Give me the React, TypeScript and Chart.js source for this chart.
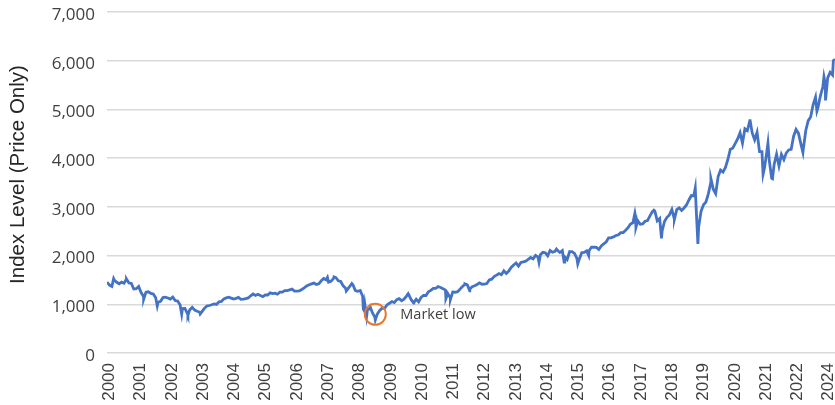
import React, { useEffect, useRef } from 'react';
import { Chart, registerables } from 'chart.js';

Chart.register(...registerables);

// Tick labels shown under the x axis (as printed in the reference)
const xTickLabels = [
  '2000', '2001', '2002', '2003', '2004', '2005', '2006', '2007', '2008', '2009', '2010', '2011',
  '2012', '2013', '2014', '2015', '2016', '2017', '2018', '2019', '2020', '2021', '2022', '2024',
];

const firstYear = 2000;
const startValue = 1455; // 3 Jan 2000

// Month-end index levels, Jan 2000 .. Nov 2024
const monthEndCloses = [
  1394, 1366, 1499, 1452, 1421, 1455, 1431, 1518, 1437, 1429, 1315, 1320, // 2000
  1366, 1240, 1160, 1249, 1256, 1224, 1211, 1134, 1041, 1060, 1139, 1148, // 2001
  1130, 1107, 1147, 1077, 1067, 990, 912, 916, 815, 886, 936, 880, // 2002
  856, 841, 848, 917, 964, 975, 990, 1008, 996, 1051, 1058, 1112, // 2003
  1131, 1145, 1126, 1107, 1121, 1141, 1102, 1104, 1115, 1130, 1174, 1212, // 2004
  1181, 1204, 1181, 1157, 1192, 1191, 1234, 1220, 1229, 1207, 1249, 1248, // 2005
  1280, 1281, 1295, 1311, 1270, 1270, 1277, 1304, 1336, 1378, 1401, 1418, // 2006
  1438, 1407, 1421, 1482, 1531, 1503, 1455, 1474, 1527, 1549, 1481, 1468, // 2007
  1379, 1331, 1323, 1386, 1400, 1280, 1267, 1283, 1166, 969, 896, 903, // 2008
  826, 735, 798, 873, 919, 919, 987, 1021, 1057, 1036, 1096, 1115, // 2009
  1074, 1104, 1169, 1187, 1089, 1031, 1102, 1049, 1141, 1183, 1181, 1258, // 2010
  1286, 1327, 1326, 1364, 1345, 1321, 1292, 1219, 1131, 1253, 1247, 1258, // 2011
  1312, 1366, 1408, 1398, 1310, 1362, 1379, 1407, 1441, 1412, 1416, 1426, // 2012
  1498, 1515, 1569, 1598, 1631, 1606, 1686, 1633, 1682, 1757, 1806, 1848, // 2013
  1783, 1859, 1872, 1884, 1924, 1960, 1931, 2003, 1972, 2018, 2068, 2059, // 2014
  1995, 2105, 2068, 2086, 2107, 2063, 2104, 1972, 1920, 2079, 2080, 2044, // 2015
  1940, 1932, 2060, 2065, 2097, 2099, 2174, 2171, 2168, 2126, 2199, 2239, // 2016
  2279, 2364, 2363, 2384, 2412, 2423, 2470, 2472, 2519, 2575, 2648, 2674, // 2017
  2824, 2714, 2641, 2648, 2705, 2718, 2816, 2902, 2914, 2712, 2760, 2507, // 2018
  2704, 2784, 2834, 2946, 2752, 2942, 2980, 2926, 2977, 3038, 3141, 3231, // 2019
  3226, 2954, 2585, 2912, 3044, 3100, 3271, 3500, 3363, 3270, 3622, 3756, // 2020
  3714, 3811, 3973, 4181, 4204, 4298, 4395, 4523, 4308, 4605, 4567, 4766, // 2021
  4516, 4374, 4530, 4132, 4132, 3785, 4130, 3955, 3586, 3872, 4080, 3840, // 2022
  4077, 3970, 4109, 4169, 4180, 4450, 4589, 4508, 4288, 4194, 4568, 4770, // 2023
  4846, 5096, 5254, 5036, 5278, 5460, 5522, 5648, 5762, 5705, 6032, // 2024
];

// Intra-month highs and lows visible in the picture
const swingDates = [
  '2000-03-24', '2000-09-01', '2001-04-04', '2001-09-21', '2002-07-23', '2002-10-09',
  '2003-03-11', '2007-07-19', '2007-10-09', '2008-03-10', '2008-05-19', '2008-10-10',
  '2008-10-27', '2008-11-20', '2009-01-06', '2009-03-09', '2010-04-23', '2010-07-02',
  '2011-08-08', '2011-10-03', '2012-04-02', '2012-06-01', '2014-10-15', '2015-05-21',
  '2015-08-25', '2016-02-11', '2016-06-27', '2018-01-26', '2018-02-08', '2018-09-20',
  '2018-12-24', '2019-06-03', '2020-02-19', '2020-03-23', '2020-09-02', '2022-01-03',
  '2022-06-16', '2022-08-16', '2022-10-12', '2023-10-27', '2024-04-19', '2024-07-16',
  '2024-08-05', '2024-11-11',
];
const swingValues = [
  1527, 1520, 1103, 966, 797, 777,
  800, 1553, 1565, 1273, 1426, 899,
  848, 752, 935, 677, 1217, 1023,
  1119, 1099, 1419, 1278, 1862, 2131,
  1868, 1829, 2001, 2873, 2581, 2931,
  2351, 2744, 3386, 2237, 3580, 4796,
  3667, 4305, 3577, 4117, 4967, 5667,
  5186, 6001,
];

const yAxisTitle = 'Index Level (Price Only)';
const annotationText = 'Market low';
const marketLowDate = '2009-03-09';
const marketLowCircleValue = 795;

function toDecimalYear(iso: string): number {
  const [y, m, d] = iso.split('-').map(Number);
  const t = Date.UTC(y, m - 1, d);
  const a = Date.UTC(y, 0, 1);
  const b = Date.UTC(y + 1, 0, 1);
  return y + (t - a) / (b - a);
}

function buildSeries() {
  const pts: { x: number; y: number }[] = [{ x: firstYear, y: startValue }];
  monthEndCloses.forEach((v, i) => {
    pts.push({ x: firstYear + (i + 1) / 12, y: v });
  });
  swingDates.forEach((d, i) => pts.push({ x: toDecimalYear(d), y: swingValues[i] }));
  pts.sort((p, q) => p.x - q.x);
  return pts;
}

const annotationPlugin = {
  id: 'marketLowAnnotation',
  afterDatasetsDraw(chart: any) {
    const { ctx, scales } = chart;
    const cx = scales.x.getPixelForValue(toDecimalYear(marketLowDate));
    const cy = scales.y.getPixelForValue(marketLowCircleValue);
    ctx.save();
    ctx.beginPath();
    ctx.arc(cx, cy, 10.5, 0, Math.PI * 2);
    ctx.strokeStyle = '#E8782E';
    ctx.lineWidth = 2;
    ctx.stroke();
    ctx.font = '14.5px "Open Sans"';
    ctx.fillStyle = '#404040';
    ctx.textBaseline = 'middle';
    ctx.textAlign = 'left';
    ctx.fillText(annotationText, cx + 25, cy + 1);
    ctx.restore();
  },
};

// Y-axis title, drawn rotated a little above the plot's middle as in the reference
const yTitlePlugin = {
  id: 'yTitle',
  afterDraw(chart: any) {
    const { ctx, chartArea } = chart;
    const cy = (chartArea.top + chartArea.bottom) / 2 - 8;
    ctx.save();
    ctx.translate(18, cy);
    ctx.rotate(-Math.PI / 2);
    ctx.font = '20.5px "Liberation Sans", Arial, sans-serif';
    ctx.fillStyle = '#262626';
    ctx.textAlign = 'center';
    ctx.textBaseline = 'middle';
    ctx.fillText(yAxisTitle, 0, 0);
    ctx.restore();
  },
};

export default function App() {
  const ref = useRef<HTMLCanvasElement | null>(null);

  useEffect(() => {
    document.body.style.margin = '0';
    const series = buildSeries();
    const lastX = series[series.length - 1].x;
    const chart = new Chart(ref.current as HTMLCanvasElement, {
      type: 'line',
      data: {
        datasets: [
          {
            data: series,
            borderColor: '#4472C4',
            borderWidth: 2.8,
            pointRadius: 0,
            tension: 0,
            xAxisID: 'x',
            yAxisID: 'y',
          },
        ],
      },
      options: {
        animation: false,
        responsive: false,
        layout: { padding: { top: 12, right: 0, left: 0, bottom: 0 } },
        plugins: { legend: { display: false }, tooltip: { enabled: false } },
        scales: {
          x: {
            type: 'linear',
            min: firstYear,
            max: lastX,
            display: false,
          },
          xLabels: {
            type: 'linear',
            position: 'bottom',
            min: -0.074,
            max: 23.2,
            grid: { display: false, drawTicks: false },
            border: { display: false },
            afterBuildTicks: (s: any) => {
              s.ticks = xTickLabels.map((_, i) => ({ value: i }));
            },
            ticks: {
              autoSkip: false,
              minRotation: 90,
              maxRotation: 90,
              padding: 10,
              color: '#404040',
              font: { family: '"Liberation Sans", Arial, sans-serif', size: 17 },
              callback: (v: any) => xTickLabels[Math.round(Number(v))] ?? '',
            },
            afterFit: (s: any) => {
              s.height = 52;
              s.paddingLeft = 0;
              s.paddingRight = 0;
            },
          },
          y: {
            type: 'linear',
            min: 0,
            max: 7000,
            border: { display: false },
            grid: { color: '#d9d9d9', lineWidth: 1.5, drawTicks: false },
            ticks: {
              stepSize: 1000,
              padding: 12,
              labelOffset: 3,
              color: '#404040',
              font: { family: '"Open Sans", sans-serif', size: 17 },
              callback: (v: any) => Number(v).toLocaleString('en-US'),
            },
            afterFit: (s: any) => {
              s.width = 107;
              s.paddingTop = 0;
              s.paddingBottom = 0;
            },
          },
        },
      },
      plugins: [annotationPlugin, yTitlePlugin],
    });
    return () => chart.destroy();
  }, []);

  return <canvas ref={ref} width={835} height={405} style={{ display: 'block' }} />;
}
